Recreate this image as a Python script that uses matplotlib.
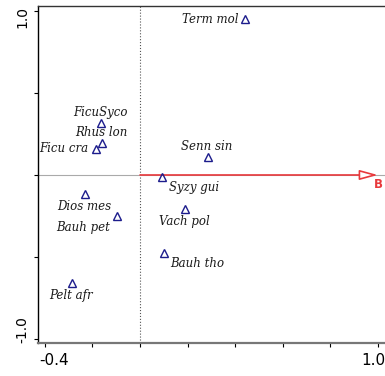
import matplotlib
matplotlib.use('Agg')
import matplotlib.pyplot as plt
from matplotlib.transforms import ScaledTranslation

# species scores (axis 1, axis 2)
species = ['Term mol', 'FicuSyco', 'Rhus lon', 'Ficu cra', 'Senn sin', 'Syzy gui',
           'Dios mes', 'Bauh pet', 'Vach pol', 'Bauh tho', 'Pelt afr']
ax1 = [0.44, -0.164, -0.16, -0.185, 0.285, 0.092, -0.23, -0.096, 0.19, 0.10, -0.285]
ax2 = [0.95, 0.317, 0.195, 0.159, 0.11, -0.012, -0.116, -0.25, -0.21, -0.475, -0.66]

# environmental variable arrow
env_name = 'B'
env_x = 1.0
env_y = 0.0

# label placement (pixel offsets, alignment)
lab_pos = {
    'Term mol': (-6, 0, 'right'),
    'FicuSyco': (-1, 10, 'center'),
    'Rhus lon': (-1, 10, 'center'),
    'Ficu cra': (-8, 0, 'right'),
    'Senn sin': (-1, 10, 'center'),
    'Syzy gui': (7, -11, 'left'),
    'Dios mes': (-1, -12, 'center'),
    'Bauh pet': (-7, -11, 'right'),
    'Vach pol': (-1, -12, 'center'),
    'Bauh tho': (6, -11, 'left'),
    'Pelt afr': (-1, -12, 'center'),
}

fig = plt.figure(figsize=(3.85, 3.76), dpi=100)
ax = fig.add_axes([38 / 385, 33 / 376, 1 - 38 / 385, 337 / 376])

ax.set_xlim(-0.429, 1.03)
ax.set_ylim(-1.024, 1.03)

ax.axvline(0, color='#555555', lw=0.8, ls=':', zorder=1)
ax.axhline(0, color='#aaaaaa', lw=0.8, zorder=1)

ax.annotate('', xy=(env_x, env_y), xytext=(0, 0),
            arrowprops=dict(arrowstyle='-|>,head_length=1.1,head_width=0.3',
                            color='#e8393c', fc='white', lw=1.2,
                            shrinkA=0, shrinkB=0), zorder=3)
ax.annotate(env_name, (env_x, env_y), xytext=(-4, -10), textcoords='offset pixels',
            color='#e8393c', fontweight='bold', fontsize=8.5, ha='left', va='center',
            annotation_clip=False)

ax.plot(ax1, ax2, ls='none', marker='^', ms=6, mfc='none', mec='#1c1c8c', mew=1, zorder=4)

for name, x, y in zip(species, ax1, ax2):
    dx, dy, ha = lab_pos[name]
    ax.annotate(name, (x, y), xytext=(dx, dy), textcoords='offset pixels',
                ha=ha, va='center', fontsize=8.5, style='italic',
                family='DejaVu Serif', color='#1a1a1a')

ax.spines['right'].set_visible(False)
ax.spines['left'].set_linewidth(1)
ax.spines['top'].set_linewidth(1)
ax.spines['top'].set_color('#333333')
ax.spines['bottom'].set_linewidth(1.6)
ax.spines['bottom'].set_color('#777777')

ax.set_xticks([-0.4, -0.2, 0, 0.2, 0.4, 0.6, 0.8, 1.0])
ax.set_xticklabels(['-0.4', '', '', '', '', '', '', '1.0'])
ax.set_yticks([-1.0, -0.5, 0, 0.5, 1.0])
ax.set_yticklabels(['-1.0', '', '', '', '1.0'], rotation=90, va='center')
ax.tick_params(direction='out', length=3, width=0.8)
ax.tick_params(axis='x', labelsize=11, pad=4)
ax.tick_params(axis='y', labelsize=10)

# nudge end labels inward, as in the reference
xl = ax.get_xticklabels()
xl[0].set_ha('left')
xl[0].set_transform(xl[0].get_transform() + ScaledTranslation(-6 / 100, 0, fig.dpi_scale_trans))
xl[-1].set_ha('right')
xl[-1].set_transform(xl[-1].get_transform() + ScaledTranslation(8 / 100, 0, fig.dpi_scale_trans))
yl = ax.get_yticklabels()
yl[0].set_transform(yl[0].get_transform() + ScaledTranslation(0, 9 / 100, fig.dpi_scale_trans))
yl[-1].set_transform(yl[-1].get_transform() + ScaledTranslation(0, -6 / 100, fig.dpi_scale_trans))

fig.savefig('out.png', dpi=100)
